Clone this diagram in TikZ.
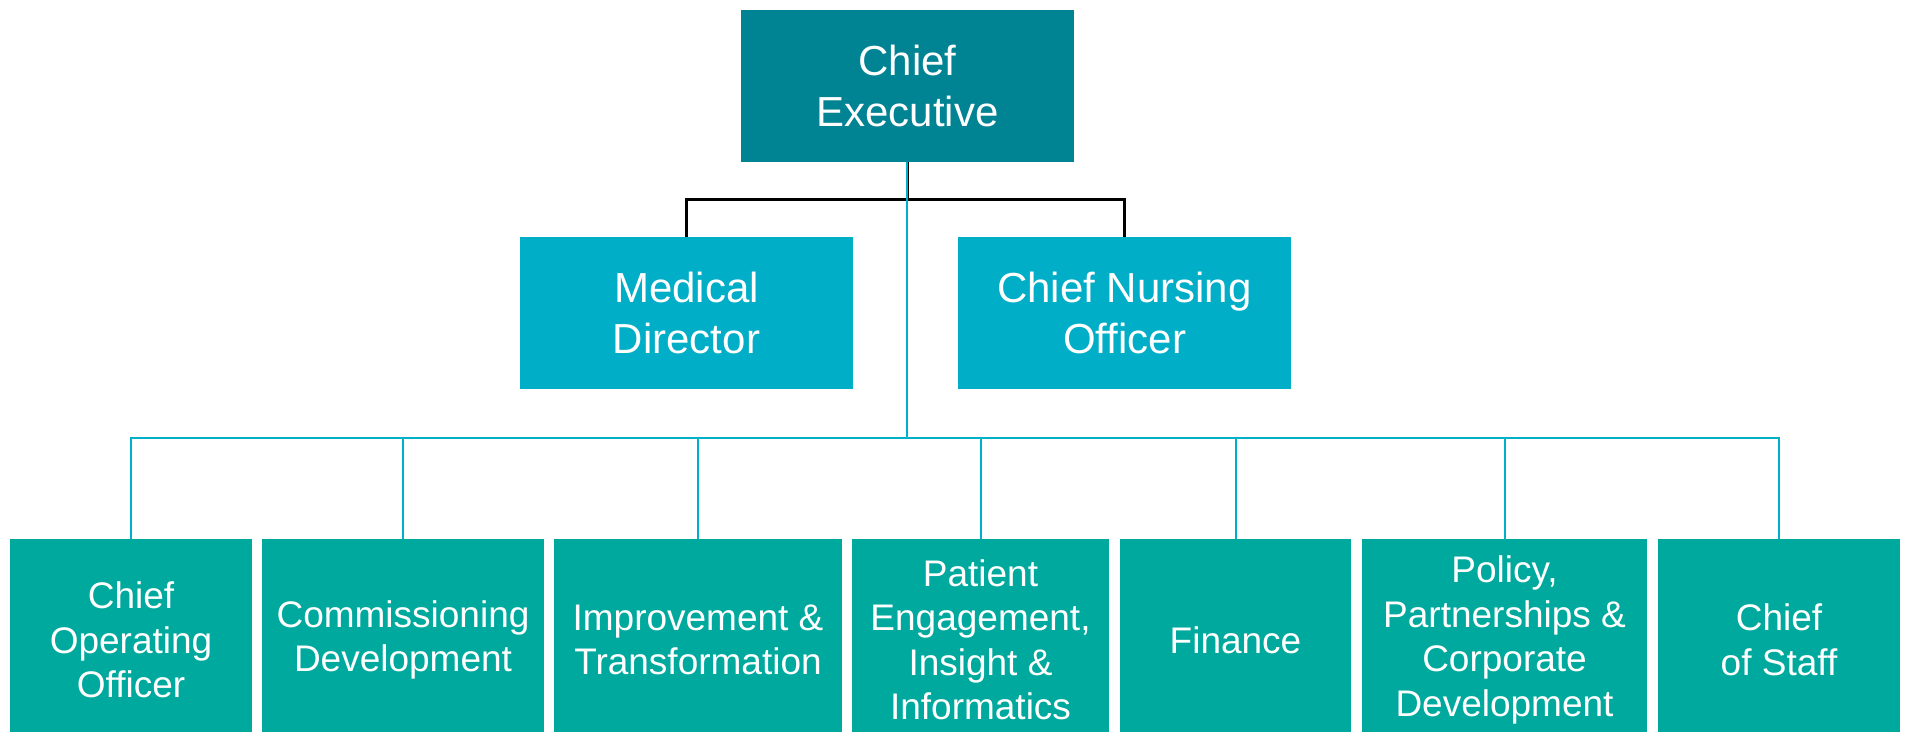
\documentclass[tikz,border=0pt]{standalone}
\usepackage{fontspec}
\setmainfont{Liberation Sans}
\definecolor{ceteal}{RGB}{0,131,147}
\definecolor{midcyan}{RGB}{0,174,199}
\definecolor{botteal}{RGB}{0,169,157}
\definecolor{linecyan}{RGB}{0,176,202}
\tikzset{
  topbox/.style={fill=ceteal,text=white,align=center,inner sep=0pt,
    minimum width=333pt,minimum height=152pt,font=\fontsize{42}{51}\selectfont},
  midbox/.style={fill=midcyan,text=white,align=center,inner sep=0pt,
    minimum width=333pt,minimum height=152pt,font=\fontsize{42}{51}\selectfont},
  botbox/.style={fill=botteal,text=white,align=center,inner sep=0pt,
    minimum height=202pt,font=\fontsize{37}{44.5}\selectfont},
  blackline/.style={draw=black,line width=2.6pt},
  cyanline/.style={draw=linecyan,line width=2pt}
}
\begin{document}
\begin{tikzpicture}[x=1pt,y=-1pt]
\useasboundingbox (0,0) rectangle (1908,731);
% top
\node[topbox] (ce) at (907.5,86) {Chief\\Executive};
\node[midbox] (md) at (686.5,313) {Medical\\Director};
\node[midbox] (cno) at (1124.5,313) {Chief Nursing\\Officer};
% bottom row (boxes run past the lower edge of the page)
\node[botbox,minimum width=242pt] (coo) at (131,640) {Chief\\Operating\\Officer};
\node[botbox,minimum width=282pt] (comm) at (403,640) {Commissioning\\Development};
\node[botbox,minimum width=288pt] (impr) at (698,640) {Improvement \&\\Transformation};
\node[botbox,minimum width=257pt] (pat) at (980.5,640) {Patient\\Engagement,\\Insight \&\\Informatics};
\node[botbox,minimum width=231pt] (fin) at (1235.5,640) {Finance};
\node[botbox,minimum width=285pt] (pol) at (1504.5,640) {Policy,\\Partnerships \&\\Corporate\\Development};
\node[botbox,minimum width=242pt] (cos) at (1779,640) {Chief\\of Staff};
% black connectors
\draw[blackline] (ce.south) -- ++(0,37) coordinate (bj) -| (md.north);
\draw[blackline] (bj) -| (cno.north);
% cyan connectors
\draw[cyanline] ([xshift=-1pt]ce.south) -- ++(0,276) coordinate (cj);
\foreach \n in {coo,comm,impr,pat,fin,pol,cos}{
  \draw[cyanline] (cj) -| (\n.north);
}
\end{tikzpicture}
\end{document}
